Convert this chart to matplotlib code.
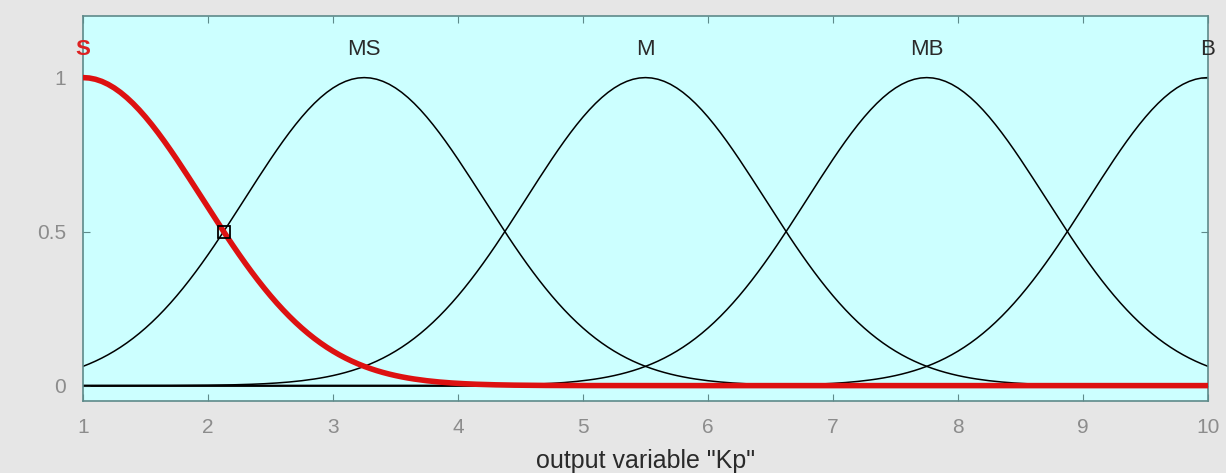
import numpy as np
import matplotlib.pyplot as plt

plt.rcParams['font.family'] = ['Liberation Sans', 'DejaVu Sans']

# gaussian membership functions of output variable "Kp"
names = ['S', 'MS', 'M', 'MB', 'B']
centers = [1.0, 3.25, 5.5, 7.75, 10.0]
sigma = 0.9555
xticks = [1, 2, 3, 4, 5, 6, 7, 8, 9, 10]
yticks = [0, 0.5, 1]
selected = 0
marker_x, marker_y = 2.125, 0.5

x = np.linspace(1, 10, 181)

fig = plt.figure(figsize=(12.26, 4.73), dpi=100, facecolor='#e6e6e6')
ax = fig.add_axes([0.0677, 0.1522, 0.9176, 0.814])
ax.set_facecolor('#ccffff')

ax.axhline(0, color='black', lw=1.2, zorder=1)
for i, (n, c) in enumerate(zip(names, centers)):
    y = np.exp(-(x - c) ** 2 / (2 * sigma ** 2))
    if i == selected:
        ax.plot(x, y, color='#dd1111', lw=4, zorder=3)
        col = '#dd2222'
    else:
        ax.plot(x, y, color='black', lw=1.1, zorder=2)
        col = '#2a2a2a'
    ax.text(c, 1.09, n, color=col, fontsize=16, ha='center', va='center',
            fontweight='bold' if i == selected else 'normal')

ax.plot([marker_x], [marker_y], marker='s', ms=9, mfc='none', mec='black',
        mew=1.3, zorder=4)

ax.set_xlim(1, 10)
ax.set_ylim(-0.05, 1.2)
ax.set_xticks(xticks)
ax.set_yticks(yticks)
ax.set_yticklabels(['0', '0.5', '1'])
ax.tick_params(direction='in', top=True, right=True, labelsize=15,
               labelcolor='#8c8c8c', color='#5e8a8a', length=5, pad=12)
for s in ax.spines.values():
    s.set_color('#5e8a8a')
    s.set_linewidth(1.2)
ax.set_xlabel('output variable "Kp"', fontsize=18, color='#2a2a2a', labelpad=9)

fig.savefig('out.png', dpi=100, facecolor=fig.get_facecolor())
